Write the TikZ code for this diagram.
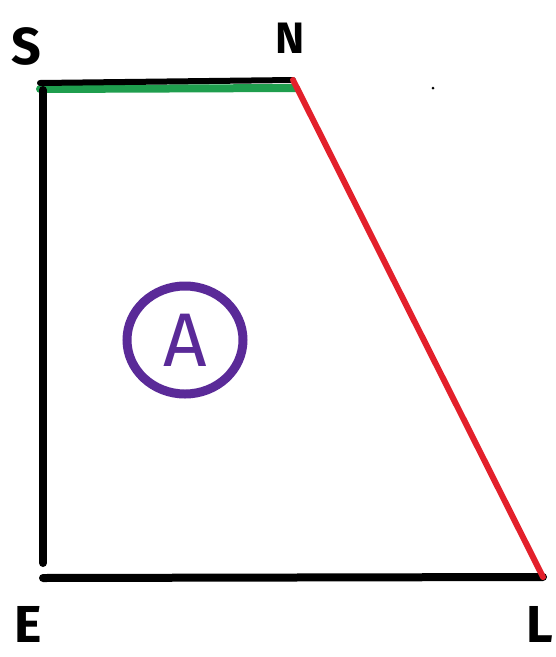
\documentclass[tikz,border=0pt]{standalone}
\usepackage{fontspec}
\setmainfont{Fira Sans}
\usetikzlibrary{shapes.geometric}
\definecolor{hblack}{HTML}{000000}
\definecolor{hred}{HTML}{E3202B}
\definecolor{hgreen}{HTML}{1F9E4E}
\definecolor{hpurple}{HTML}{5A2A98}
\begin{document}
\begin{tikzpicture}[x=1pt,y=-1pt,
  edge/.style={line width=8pt,line cap=round},
  lbl/.style={font=\fontsize{52}{52}\selectfont\bfseries, inner sep=0pt}]
\useasboundingbox (0,0) rectangle (556,657);
\coordinate (S) at (40,83);
\coordinate (N) at (293,80);
\coordinate (L) at (543,577);
\coordinate (E) at (43,578);
\coordinate (Sl) at (43,90);
\coordinate (El) at (43,563);
\coordinate (Sg) at (40,89);
\coordinate (Ng) at (296,88);
\draw[edge,hgreen] (Sg) -- (Ng);
\draw[edge,hblack,line width=6pt] (S) -- (N);
\draw[edge,hblack] (Sl) -- (El);
\draw[edge,hblack] (E) -- (L);
\draw[edge,hred,line width=6pt] (N) -- (L);
\node[lbl] (lS) at (26,46) {S};
\node[lbl,font=\fontsize{44}{44}\selectfont\bfseries] (lN) at (290,38) {N};
\node[lbl] (lE) at (28,624) {E};
\node[lbl] (lL) at (540,624) {L};
\node[draw=hpurple, line width=9pt, ellipse, minimum width=116pt, minimum height=108pt, inner sep=0pt, text=hpurple, font=\fontsize{76}{76}\selectfont] (A) at (185,340) {A};
\fill[hblack] (433,88) circle (1.5pt);
\end{tikzpicture}
\end{document}
